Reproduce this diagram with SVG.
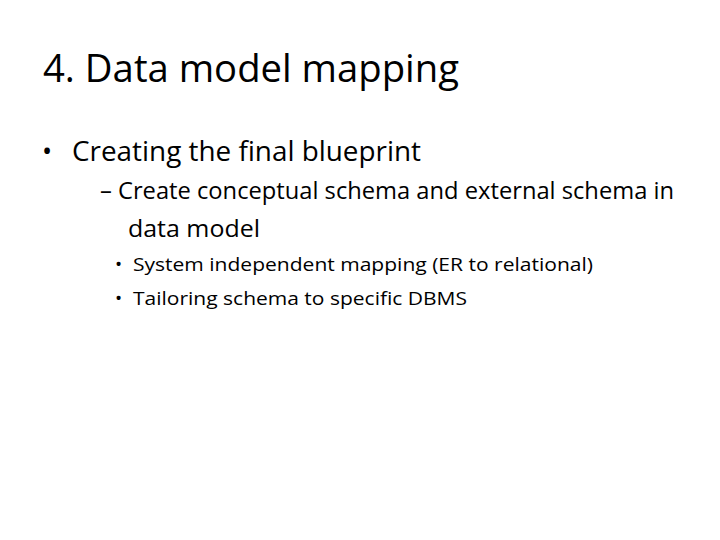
<svg xmlns="http://www.w3.org/2000/svg" width="720" height="540" viewBox="0 0 720 540">
<style>
text{font-family:"Open Sans","Liberation Sans",sans-serif;fill:#000}
.t{font-size:38px}.l1{font-size:27px}.l2{font-size:23px}.l3{font-size:19px}
</style>
<rect width="720" height="540" fill="#fff"/>
<text class="t" x="43" y="82" textLength="416" lengthAdjust="spacingAndGlyphs">4. Data model mapping</text>
<text class="l1" x="42" y="161">•</text>
<text class="l1" x="72" y="161" textLength="349" lengthAdjust="spacingAndGlyphs">Creating the final blueprint</text>
<text class="l2" x="100" y="199" textLength="574" lengthAdjust="spacingAndGlyphs">– Create conceptual schema and external schema in</text>
<text class="l2" x="128" y="237" textLength="132" lengthAdjust="spacingAndGlyphs">data model</text>
<text class="l3" x="115" y="271">•</text>
<text class="l3" x="133" y="271" textLength="460" lengthAdjust="spacingAndGlyphs">System independent mapping (ER to relational)</text>
<text class="l3" x="115" y="305">•</text>
<text class="l3" x="133" y="305" textLength="334" lengthAdjust="spacingAndGlyphs">Tailoring schema to specific DBMS</text>
</svg>
